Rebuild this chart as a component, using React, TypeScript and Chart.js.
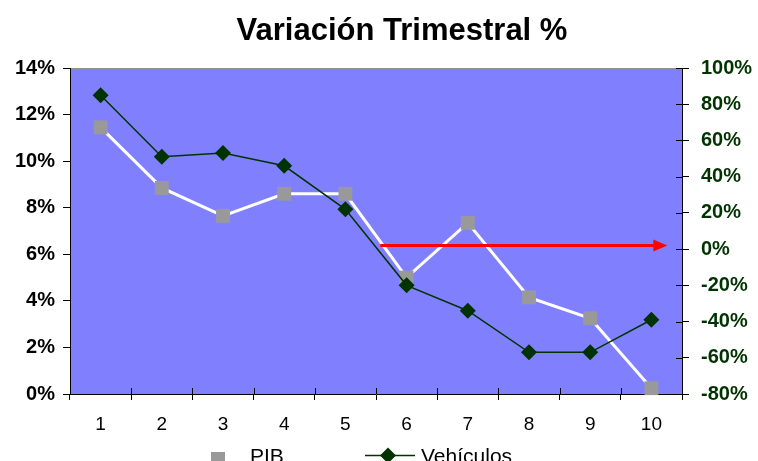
import React, { useEffect, useRef } from "react";
import { Chart, registerables } from "chart.js";

Chart.register(...registerables);

// ---- data ----
const titleText = "Variación Trimestral %";
const categories = ["1", "2", "3", "4", "5", "6", "7", "8", "9", "10"];
const pibLabel = "PIB";
const pibValues = [11.45, 8.85, 7.65, 8.6, 8.6, 5.0, 7.35, 4.15, 3.25, 0.25];
const vehLabel = "Vehículos";
const vehValues = [85, 51, 53, 46, 22, -20, -34, -57, -57, -39];
const leftMin = 0;
const leftMax = 14;
const leftStep = 2;
const rightMin = -80;
const rightMax = 100;
const rightStep = 20;
// arrow annotation (category index positions, right-axis level)
const arrowFrom = 4.57;
const arrowTo = 9.26;
const arrowLevel = 2;

// ---- styles ----
const FONT = "'Liberation Sans', Arial, Helvetica, sans-serif";
const PLOT_BG = "#8080FF";
const PIB_POINT = "#999999";
const PIB_LINE = "#FFFFFF";
const VEH_COLOR = "#003300";
const ARROW = "#FF0000";

const decorPlugin = {
  id: "decor",
  beforeDraw(chart: any) {
    const { ctx, chartArea: a } = chart;
    ctx.save();
    ctx.fillStyle = "#FFFFFF";
    ctx.fillRect(0, 0, chart.width, chart.height);
    ctx.fillStyle = PLOT_BG;
    ctx.fillRect(a.left, a.top, a.right - a.left, a.bottom - a.top);
    ctx.strokeStyle = "#909090";
    ctx.lineWidth = 1;
    ctx.beginPath();
    ctx.moveTo(a.left, a.top + 0.5);
    ctx.lineTo(a.right, a.top + 0.5);
    ctx.stroke();
    ctx.restore();
  },
  afterDatasetsDraw(chart: any) {
    const { ctx } = chart;
    const xs = chart.scales.x;
    const y1 = chart.scales.y1;
    const x0 = xs.getPixelForValue(arrowFrom);
    const x1 = xs.getPixelForValue(arrowTo);
    const y = y1.getPixelForValue(arrowLevel);
    const headLen = 14;
    const headHalf = 6;
    ctx.save();
    ctx.strokeStyle = ARROW;
    ctx.fillStyle = ARROW;
    ctx.lineWidth = 3;
    ctx.beginPath();
    ctx.moveTo(x0, y);
    ctx.lineTo(x1 - headLen + 1, y);
    ctx.stroke();
    ctx.beginPath();
    ctx.moveTo(x1, y);
    ctx.lineTo(x1 - headLen, y - headHalf);
    ctx.lineTo(x1 - headLen, y + headHalf);
    ctx.closePath();
    ctx.fill();
    ctx.restore();
  },
  afterDraw(chart: any) {
    const { ctx, chartArea: a } = chart;
    const xs = chart.scales.x;
    const y1 = chart.scales.y1;
    ctx.save();
    // inner tick marks (crossing ticks)
    ctx.strokeStyle = "#000000";
    ctx.lineWidth = 1;
    ctx.beginPath();
    for (let i = 0; i <= categories.length; i++) {
      const px = Math.round(xs.getPixelForValue(i - 0.5)) + 0.5;
      ctx.moveTo(px, a.bottom - 6);
      ctx.lineTo(px, a.bottom);
    }
    for (const t of y1.ticks) {
      const py = Math.round(y1.getPixelForValue(t.value)) + 0.5;
      ctx.moveTo(a.right - 6, py);
      ctx.lineTo(a.right, py);
    }
    ctx.stroke();

    // title
    ctx.fillStyle = "#000000";
    ctx.font = `bold 31px ${FONT}`;
    ctx.textAlign = "center";
    ctx.textBaseline = "alphabetic";
    ctx.fillText(titleText, 402, 40);

    // legend
    const ds = chart.data.datasets;
    ctx.font = `21px ${FONT}`;
    ctx.textAlign = "left";
    // PIB
    ctx.fillStyle = ds[0].pointBackgroundColor;
    ctx.fillRect(211, 452, 14, 14);
    ctx.fillStyle = "#000000";
    ctx.fillText(ds[0].label, 250, 463);
    // Vehiculos
    ctx.strokeStyle = ds[1].borderColor;
    ctx.lineWidth = 1.5;
    ctx.beginPath();
    ctx.moveTo(365, 455.5);
    ctx.lineTo(415, 455.5);
    ctx.stroke();
    ctx.fillStyle = ds[1].pointBackgroundColor;
    ctx.beginPath();
    ctx.moveTo(388 - 8, 455.5);
    ctx.lineTo(388, 455.5 - 8);
    ctx.lineTo(388 + 8, 455.5);
    ctx.lineTo(388, 455.5 + 8);
    ctx.closePath();
    ctx.fill();
    ctx.fillStyle = "#000000";
    ctx.fillText(ds[1].label, 421, 463);
    ctx.restore();
  },
};

export default function App() {
  const canvasRef = useRef<HTMLCanvasElement | null>(null);

  useEffect(() => {
    const canvas = canvasRef.current;
    if (!canvas) return;
    const chart = new Chart(canvas, {
      type: "line",
      data: {
        labels: categories,
        datasets: [
          {
            label: pibLabel,
            data: pibValues,
            yAxisID: "y",
            borderColor: PIB_LINE,
            borderWidth: 3,
            pointStyle: "rect",
            pointRadius: 9.8,
            pointBackgroundColor: PIB_POINT,
            pointBorderColor: PIB_POINT,
            pointBorderWidth: 0,
            tension: 0,
            order: 1,
            clip: false,
          },
          {
            label: vehLabel,
            data: vehValues,
            yAxisID: "y1",
            borderColor: VEH_COLOR,
            borderWidth: 1.5,
            pointStyle: "rectRot",
            pointRadius: 8,
            pointBackgroundColor: VEH_COLOR,
            pointBorderColor: VEH_COLOR,
            pointBorderWidth: 0,
            tension: 0,
            order: 0,
            clip: false,
          },
        ],
      },
      options: {
        responsive: false,
        animation: false,
        events: [],
        layout: { padding: { top: 68, left: 0, right: 0, bottom: 0 } },
        plugins: {
          legend: { display: false },
          title: { display: false },
          tooltip: { enabled: false },
        },
        scales: {
          x: {
            type: "category",
            offset: true,
            grid: {
              offset: true,
              drawOnChartArea: false,
              tickLength: 6,
              color: "#000000",
            },
            border: { display: true, color: "#000000", width: 1 },
            ticks: {
              color: "#000000",
              font: { family: FONT, size: 19 },
              padding: 13,
              maxRotation: 0,
              autoSkip: false,
            },
            afterFit(scale: any) {
              scale.height = 67;
            },
          },
          y: {
            type: "linear",
            position: "left",
            min: leftMin,
            max: leftMax,
            grid: {
              drawOnChartArea: false,
              tickLength: 7,
              color: "#000000",
            },
            border: { display: true, color: "#000000", width: 1 },
            ticks: {
              stepSize: leftStep,
              color: "#000000",
              font: { family: FONT, size: 20, weight: "bold" },
              padding: 8,
              callback: (v: any) => `${v}%`,
            },
            afterFit(scale: any) {
              scale.width = 70;
            },
          },
          y1: {
            type: "linear",
            position: "right",
            min: rightMin,
            max: rightMax,
            grid: {
              drawOnChartArea: false,
              tickLength: 7,
              color: "#000000",
            },
            border: { display: true, color: "#000000", width: 1 },
            ticks: {
              stepSize: rightStep,
              color: VEH_COLOR,
              font: { family: FONT, size: 20, weight: "bold" },
              padding: 12,
              callback: (v: any) => `${v}%`,
            },
            afterFit(scale: any) {
              scale.width = 76;
            },
          },
        },
      },
      plugins: [decorPlugin],
    });
    return () => chart.destroy();
  }, []);

  return (
    <div
      style={{
        position: "fixed",
        left: 0,
        top: 0,
        width: 758,
        height: 461,
        overflow: "hidden",
        background: "#FFFFFF",
      }}
    >
      <canvas ref={canvasRef} width={758} height={461} style={{ display: "block" }} />
    </div>
  );
}
